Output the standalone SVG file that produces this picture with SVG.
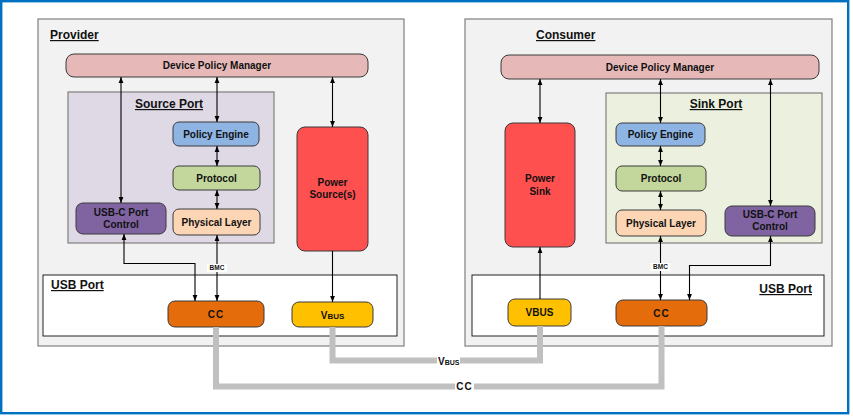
<svg xmlns="http://www.w3.org/2000/svg" width="853" height="419" viewBox="0 0 853 419">
<style>
text{font-family:"Liberation Sans",Arial,sans-serif;font-weight:bold;fill:#111;}
.lbl{font-size:10px;text-anchor:middle;}
.title{font-size:12px;text-decoration:underline;}
.node{stroke:#3a3a3a;stroke-width:1;}
.cont{stroke:#7f7f7f;stroke-width:1.2;}
.arr{fill:none;stroke:#000;stroke-width:1.1;}
.bus{fill:none;stroke:#c0c0c0;stroke-width:6;}
.bmc{font-size:6.5px;text-anchor:middle;}
</style>
<defs>
<marker id="ah" viewBox="0 0 10 10" refX="10" refY="5" markerWidth="6" markerHeight="6" markerUnits="userSpaceOnUse" orient="auto-start-reverse">
<path d="M0,1 L10,5 L0,9 z" fill="#000"/>
</marker>
</defs>
<rect x="1.2" y="1.2" width="847" height="412" fill="#fff" stroke="#0070c0" stroke-width="2.4"/>

<g id="provider">
<rect class="cont" x="38" y="19" width="366" height="327" fill="#f2f2f2"/>
<text class="title" x="50" y="39">Provider</text>
</g>
<g id="provider-dpm">
<rect class="node" x="66" y="54" width="302" height="23" rx="8" fill="#e6b9b8"/>
<text class="lbl" x="217" y="69">Device Policy Manager</text>
</g>
<g id="source-port">
<rect class="cont" x="68" y="92" width="206" height="151" fill="#dfd9e6"/>
<text class="title" x="169" y="108" text-anchor="middle">Source Port</text>
</g>
<g id="provider-pe">
<rect class="node" x="173" y="122" width="86" height="24" rx="6" fill="#8eb4e3"/>
<text class="lbl" x="216" y="137.5">Policy Engine</text>
</g>
<g id="provider-protocol">
<rect class="node" x="173" y="166" width="87" height="24" rx="6" fill="#c3d69b"/>
<text class="lbl" x="216.5" y="181.5">Protocol</text>
</g>
<g id="provider-phy">
<rect class="node" x="173" y="209" width="87" height="26" rx="6" fill="#fcd5b5"/>
<text class="lbl" x="216.5" y="225.5">Physical Layer</text>
</g>
<g id="provider-usbc">
<rect class="node" x="76" y="203" width="90" height="31" rx="7" fill="#8064a2"/>
<text class="lbl" x="121" y="216">USB-C Port</text>
<text class="lbl" x="121" y="228">Control</text>
</g>
<g id="power-source">
<rect class="node" x="297" y="127" width="71" height="124" rx="8" fill="#ff5050"/>
<text class="lbl" x="332.5" y="186">Power</text>
<text class="lbl" x="332.5" y="197.5">Source(s)</text>
</g>
<g id="provider-usbport">
<rect x="43" y="275" width="354" height="61" fill="#fff" stroke="#222" stroke-width="1"/>
<text class="title" x="51" y="289">USB Port</text>
</g>
<g id="provider-cc">
<rect class="node" x="168" y="301" width="96" height="26" rx="7" fill="#e46c0a"/>
<text class="lbl" x="216" y="317.5" letter-spacing="1">CC</text>
</g>
<g id="provider-vbus">
<rect class="node" x="292" y="302" width="81" height="25" rx="7" fill="#ffc000"/>
<text class="lbl" x="332.5" y="318.5">V<tspan font-size="8">BUS</tspan></text>
</g>

<g id="consumer">
<rect class="cont" x="465" y="19" width="367" height="327" fill="#f2f2f2"/>
<text class="title" x="536" y="39">Consumer</text>
</g>
<g id="consumer-dpm">
<rect class="node" x="501" y="55" width="318" height="24" rx="8" fill="#e6b9b8"/>
<text class="lbl" x="660" y="70.5">Device Policy Manager</text>
</g>
<g id="sink-port">
<rect class="cont" x="606" y="93" width="216" height="150" fill="#ebf1de"/>
<text class="title" x="716" y="108" text-anchor="middle">Sink Port</text>
</g>
<g id="consumer-pe">
<rect class="node" x="616" y="123" width="89" height="23" rx="6" fill="#8eb4e3"/>
<text class="lbl" x="660.5" y="138">Policy Engine</text>
</g>
<g id="consumer-protocol">
<rect class="node" x="616" y="166" width="90" height="25" rx="6" fill="#c3d69b"/>
<text class="lbl" x="661" y="182">Protocol</text>
</g>
<g id="consumer-phy">
<rect class="node" x="616" y="210" width="90" height="26" rx="6" fill="#fcd5b5"/>
<text class="lbl" x="661" y="226.5">Physical Layer</text>
</g>
<g id="consumer-usbc">
<rect class="node" x="725" y="206" width="90" height="30" rx="7" fill="#8064a2"/>
<text class="lbl" x="770" y="218">USB-C Port</text>
<text class="lbl" x="770" y="230">Control</text>
</g>
<g id="power-sink">
<rect class="node" x="505" y="123" width="70" height="124" rx="8" fill="#ff5050"/>
<text class="lbl" x="540" y="182">Power</text>
<text class="lbl" x="540" y="194.5">Sink</text>
</g>
<g id="consumer-usbport">
<rect x="472" y="275" width="352" height="61" fill="#fff" stroke="#222" stroke-width="1"/>
<text class="title" x="812" y="293" text-anchor="end">USB Port</text>
</g>
<g id="consumer-vbus">
<rect class="node" x="508" y="299" width="63" height="27" rx="7" fill="#ffc000"/>
<text class="lbl" x="539.5" y="316">VBUS</text>
</g>
<g id="consumer-cc">
<rect class="node" x="616" y="300" width="91" height="26" rx="7" fill="#e46c0a"/>
<text class="lbl" x="661.5" y="317" letter-spacing="1">CC</text>
</g>

<g id="connectors">
<path class="arr" d="M121,77 V203" marker-start="url(#ah)" marker-end="url(#ah)"/>
<path class="arr" d="M217,77 V122" marker-start="url(#ah)" marker-end="url(#ah)"/>
<path class="arr" d="M217,146 V166" marker-start="url(#ah)" marker-end="url(#ah)"/>
<path class="arr" d="M217,190 V209" marker-start="url(#ah)" marker-end="url(#ah)"/>
<path class="arr" d="M217,235 V301" marker-start="url(#ah)" marker-end="url(#ah)"/>
<path class="arr" d="M332.5,77 V127" marker-start="url(#ah)" marker-end="url(#ah)"/>
<path class="arr" d="M124,234 V263.5 H195 V301" marker-start="url(#ah)" marker-end="url(#ah)"/>
<path class="arr" d="M332.5,251 V302" marker-end="url(#ah)"/>
<rect x="207" y="264" width="20" height="8" fill="#fff"/>
<text class="bmc" x="217" y="270.3">BMC</text>

<path class="arr" d="M540,79 V123" marker-start="url(#ah)" marker-end="url(#ah)"/>
<path class="arr" d="M660.5,79 V123" marker-start="url(#ah)" marker-end="url(#ah)"/>
<path class="arr" d="M660.5,146 V166" marker-start="url(#ah)" marker-end="url(#ah)"/>
<path class="arr" d="M660.5,191 V210" marker-start="url(#ah)" marker-end="url(#ah)"/>
<path class="arr" d="M660.5,236 V300" marker-start="url(#ah)" marker-end="url(#ah)"/>
<path class="arr" d="M770.5,79 V206" marker-start="url(#ah)" marker-end="url(#ah)"/>
<path class="arr" d="M770.5,236 V265.5 H689.5 V300" marker-start="url(#ah)" marker-end="url(#ah)"/>
<path class="arr" d="M540,299 V247" marker-end="url(#ah)"/>
<rect x="650.5" y="263" width="20" height="8" fill="#fff"/>
<text class="bmc" x="660.5" y="269.3">BMC</text>

<path class="bus" d="M216,327 V386.5 H661.5 V326"/>
<path class="bus" d="M332.5,327 V360.5 H540 V326"/>
<rect x="437" y="355" width="23" height="11" fill="#fff"/>
<text x="438" y="364.5" font-size="10">V<tspan font-size="7">BUS</tspan></text>
<rect x="455" y="381" width="19" height="11" fill="#fff"/>
<text x="464.5" y="390" font-size="10" text-anchor="middle" letter-spacing="1">CC</text>
</g>
</svg>
